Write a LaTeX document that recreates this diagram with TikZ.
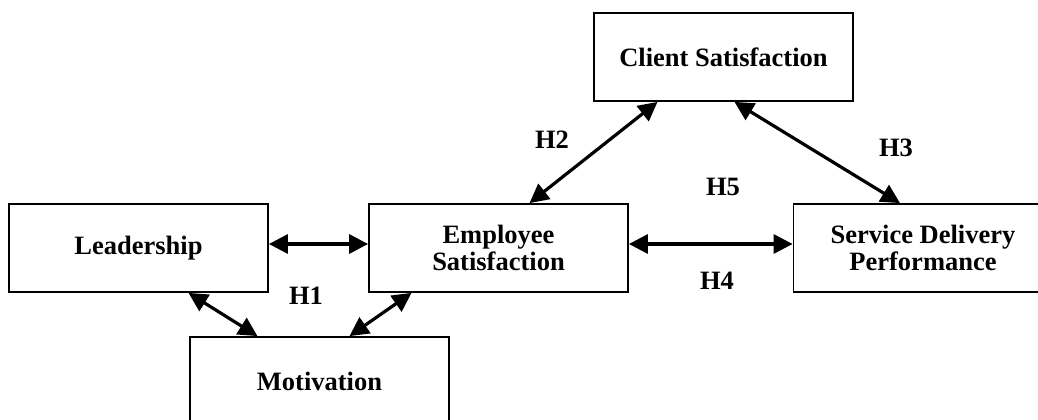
\documentclass[tikz,border=0pt]{standalone}
\usepackage{fontspec}
\setmainfont{Liberation Serif}
\usetikzlibrary{arrows.meta}

\tikzset{
  box/.style={draw,line width=1.8pt,minimum width=259pt,minimum height=88pt,
    align=center,inner sep=0pt,font=\fontsize{26.5}{27.5}\selectfont\bfseries},
  hyp/.style={font=\fontsize{26.5}{27.5}\selectfont\bfseries,inner sep=0pt},
  link/.style={line width=3.2pt,{Triangle[length=19pt,width=19pt]}-{Triangle[length=19pt,width=19pt]}}
}

\begin{document}
\begin{tikzpicture}[x=1pt,y=-1pt]
\useasboundingbox (0,0) rectangle (1038,420);
\clip (0,0) rectangle (1038,420);
% The boxes
\node[box] (client) at (723.5,57) {Client Satisfaction};
\node[box] (lead) at (138.5,248) {Leadership};
\node[box,text depth=0pt] (empl) at (498.5,248) {Employee\\Satisfaction};
\node[box,text depth=0pt] (serv) at (923,248) {Service Delivery\\Performance};
\node[box] (motiv) at (319.5,381) {Motivation};

% The arrows
\draw[link] ([yshift=4pt]lead.east) -- ([yshift=4pt]empl.west);
\draw[link] ([yshift=4pt]empl.east) -- ([yshift=4pt]serv.west);
\draw[link] ([xshift=31pt]empl.north) -- ([xshift=-66pt]client.south);
\draw[link] ([xshift=11pt]client.south) -- ([xshift=-23pt]serv.north);
\draw[link] ([xshift=50pt]lead.south) -- ([xshift=-62pt]motiv.north);
\draw[link] ([xshift=-87pt]empl.south) -- ([xshift=30pt]motiv.north);

% The hypotheses
\node[hyp] (h1) at (306,296) {H1};
\node[hyp] (h2) at (552,140) {H2};
\node[hyp] (h3) at (896,148) {H3};
\node[hyp] (h4) at (717,281) {H4};
\node[hyp] (h5) at (723,187) {H5};
\end{tikzpicture}
\end{document}
